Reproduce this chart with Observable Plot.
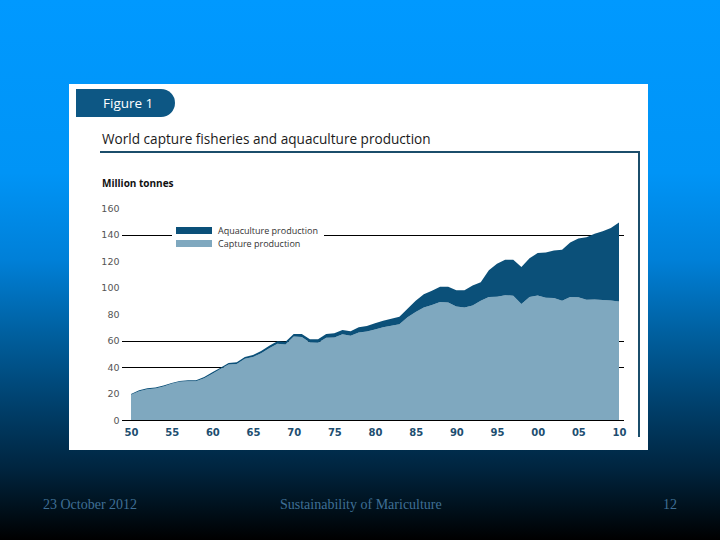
<!DOCTYPE html>
<html>
<head>
<meta charset="utf-8">
<script src="https://cdn.jsdelivr.net/npm/d3@7"></script>
<script src="https://cdn.jsdelivr.net/npm/@observablehq/plot@0.6"></script>
<style>
  html, body { margin: 0; padding: 0; }
  body {
    width: 720px; height: 540px; position: relative; overflow: hidden;
    background: linear-gradient(to bottom, #0099ff 0%, #0094f6 32%, #0080d8 48%, #005f9e 62%, #00406c 75%, #00243e 87%, #000000 100%);
    font-family: "Open Sans", "DejaVu Sans", sans-serif;
  }
  #panel { position: absolute; left: 69px; top: 84px; width: 579px; height: 366px; background: #ffffff; }
  #tab { position: absolute; left: 7px; top: 5px; width: 99px; height: 28px; background: #0d5784;
         border-radius: 0 14px 14px 0; color: #fff; font-size: 13.5px; line-height: 28px; padding-left: 27px; box-sizing: border-box; }
  #title { position: absolute; left: 33px; top: 45px; font-size: 13.6px; color: #1a1a1a; white-space: nowrap; }
  #uline { position: absolute; left: 31px; top: 67px; width: 540px; height: 2px; background: #1b4d6b; }
  #vline { position: absolute; left: 569px; top: 67px; width: 2px; height: 286px; background: #1b4d6b; }
  #unit { position: absolute; left: 33px; top: 92px; font-size: 10px; font-weight: bold; color: #111; }
  #chart { position: absolute; left: 0; top: 106px; }
  #legend { position: absolute; left: 103px; top: 139px; width: 152px; height: 27px; background: #fff; font-size: 9px; color: #333; }
  .item { position: absolute; left: 4px; height: 10px; }
  .sw { position: absolute; left: 0; width: 36px; height: 7px; }
  .lt { position: absolute; left: 42px; top: -3px; white-space: nowrap; }
  .foot { position: absolute; top: 497px; font-family: "Liberation Serif", "DejaVu Serif", serif; font-size: 14px; color: #3f6f95; white-space: nowrap; }
</style>
</head>
<body>
<div id="panel">
  <div id="tab">Figure 1</div>
  <div id="title">World capture fisheries and aquaculture production</div>
  <div id="uline"></div>
  <div id="vline"></div>
  <div id="unit">Million tonnes</div>
  <div id="chart"></div>
  <div id="legend"></div>
</div>
<div class="foot" style="left:43px">23 October 2012</div>
<div class="foot" style="left:280px">Sustainability of Mariculture</div>
<div class="foot" style="left:663px">12</div>
<script>
const years = [1950,1951,1952,1953,1954,1955,1956,1957,1958,1959,
  1960,1961,1962,1963,1964,1965,1966,1967,1968,1969,
  1970,1971,1972,1973,1974,1975,1976,1977,1978,1979,
  1980,1981,1982,1983,1984,1985,1986,1987,1988,1989,
  1990,1991,1992,1993,1994,1995,1996,1997,1998,1999,
  2000,2001,2002,2003,2004,2005,2006,2007,2008,2009,2010];

const capture = [19,21.7,23.2,23.7,25.3,27.3,28.8,29.3,29.2,31.6,
  35,38.5,41.8,42.2,46.2,47.5,50.3,54.2,57.6,57,
  63,62.7,58.5,58.3,62,62.3,64.7,63.5,66,66.8,
  68.3,70,71.2,72.3,77.5,81.5,85,86.8,89,88.7,
  85.7,85,86.5,90,92.8,93,94.2,93.8,87.5,92.8,
  94,92.2,92,90,92.8,92.6,90.8,91,90.5,90.2,89.5];

const aquaculture = [0.6,0.8,0.8,0.8,0.7,0.7,0.7,0.7,0.8,0.9,
  1.0,1.0,1.2,1.3,1.3,1.5,1.7,1.8,1.9,2.0,
  2.0,2.3,2.5,2.7,3.0,3.2,3.3,3.5,4.0,4.2,
  4.7,5.0,5.3,5.7,6.5,8.5,10,10.7,11.5,11.8,
  12.3,13,15,14,20.2,25,26.8,27.2,28,29.2,
  32,34.3,36,38.5,41.2,44.4,47.2,49.5,52,54.8,59.5];

const seriesNames = ["Capture production", "Aquaculture production"];
const seriesColors = ["#7fa8bf", "#0b5079"];
const yTicks = [0,20,40,60,80,100,120,140,160];
const xTicks = [1950,1955,1960,1965,1970,1975,1980,1985,1990,1995,2000,2005,2010];
const gridValues = [0,40,60,140];

const rows = [];
years.forEach((y, i) => rows.push({year: y, value: capture[i], series: seriesNames[0]}));
years.forEach((y, i) => rows.push({year: y, value: aquaculture[i], series: seriesNames[1]}));

const chart = Plot.plot({
  width: 579,
  height: 260,
  marginTop: 18,
  marginBottom: 30,
  marginLeft: 62,
  marginRight: 29,
  style: {background: "transparent", fontFamily: "'DejaVu Sans', sans-serif"},
  x: {type: "linear", domain: [1950, 2010], label: null},
  y: {domain: [0, 160], label: null},
  color: {domain: seriesNames, range: seriesColors},
  marks: [
    Plot.ruleY(gridValues, {stroke: "#000", strokeWidth: 1, insetLeft: -9, insetRight: -5, shapeRendering: "crispEdges"}),
    Plot.areaY(rows, {x: "year", y: "value", fill: "series", order: seriesNames, curve: "linear"}),
    Plot.axisY(yTicks, {tickSize: 0, tickPadding: 12, fontSize: 9.5, fill: "#555", label: null}),
    Plot.axisX(xTicks, {tickSize: 0, tickPadding: 8, fontSize: 10, fontWeight: "bold", fill: "#1d4e70",
      tickFormat: d => String(d % 100).padStart(2, "0"), label: null})
  ]
});
document.getElementById("chart").appendChild(chart);

const legend = document.getElementById("legend");
[1, 0].forEach((k, j) => {
  const item = document.createElement("div");
  item.className = "item";
  item.style.top = (j === 0 ? 4 : 17) + "px";
  const sw = document.createElement("div");
  sw.className = "sw";
  sw.style.background = seriesColors[k];
  const lt = document.createElement("div");
  lt.className = "lt";
  lt.textContent = seriesNames[k];
  item.appendChild(sw); item.appendChild(lt);
  legend.appendChild(item);
});
</script>
</body>
</html>
